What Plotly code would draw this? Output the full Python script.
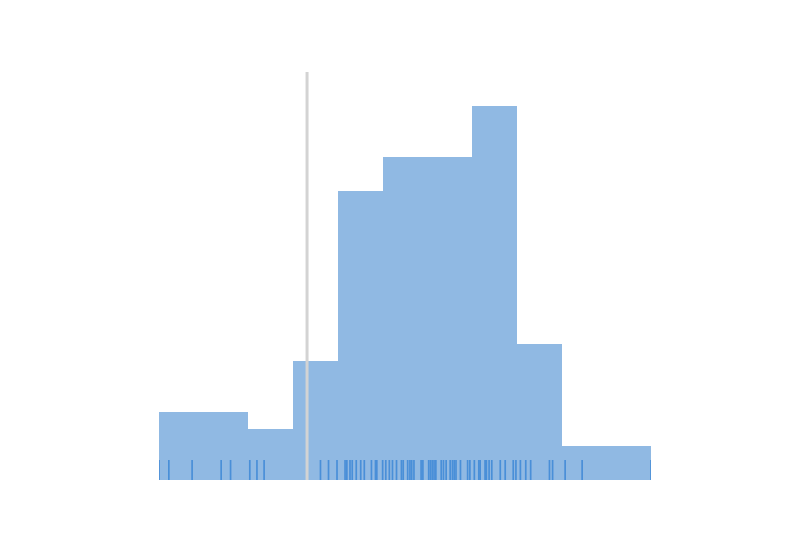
import plotly.graph_objects as go

# Histogram bins (left edges, width 1) and counts
bin_edges = [0, 1, 2, 3, 4, 5, 6, 7, 8, 9, 10, 11]
counts = [4, 4, 3, 7, 17, 19, 19, 22, 8, 2, 2]

# Individual observations shown as a rug
rug_values = [0.00, 0.22, 0.74, 1.39, 1.60, 2.03, 2.19, 2.35, 3.61, 3.79, 3.98,
              4.16, 4.20, 4.27, 4.32, 4.41, 4.51, 4.59, 4.75, 4.84, 4.87, 5.00,
              5.07, 5.15, 5.22, 5.31, 5.42, 5.46, 5.56, 5.61, 5.65, 5.70, 5.86,
              5.90, 6.03, 6.07, 6.11, 6.15, 6.19, 6.31, 6.36, 6.42, 6.51, 6.56,
              6.60, 6.64, 6.74, 6.90, 6.95, 7.05, 7.15, 7.18, 7.29, 7.32, 7.38,
              7.44, 7.63, 7.74, 7.92, 7.98, 8.08, 8.20, 8.31, 8.73, 8.80, 9.08,
              9.46, 11.00]

# Reference marker
ref_value = 3.31

centers = [(bin_edges[i] + bin_edges[i + 1]) / 2 for i in range(len(counts))]
widths = [bin_edges[i + 1] - bin_edges[i] for i in range(len(counts))]

fig = go.Figure()
fig.add_trace(go.Bar(
    x=centers, y=counts, width=widths,
    marker=dict(color="rgb(144,185,227)", line=dict(width=0)),
    hoverinfo="x+y",
))

shapes = []
for v in rug_values:
    shapes.append(dict(type="line", xref="x", yref="paper", x0=v, x1=v,
                       y0=0, y1=20 / 408,
                       line=dict(color="rgba(70,140,215,0.95)", width=1.7),
                       layer="above"))
shapes.append(dict(type="line", xref="x", yref="paper", x0=ref_value, x1=ref_value,
                   y0=0, y1=1, line=dict(color="#d3d3d3", width=3), layer="above"))

fig.update_layout(
    width=800, height=550,
    margin=dict(l=151, r=157, t=64, b=78),
    plot_bgcolor="white", paper_bgcolor="white",
    bargap=0,
    showlegend=False,
    shapes=shapes,
    xaxis=dict(range=[bin_edges[0], bin_edges[-1]], visible=False),
    yaxis=dict(range=[0, 24], visible=False),
)

fig.write_html("out.html")
